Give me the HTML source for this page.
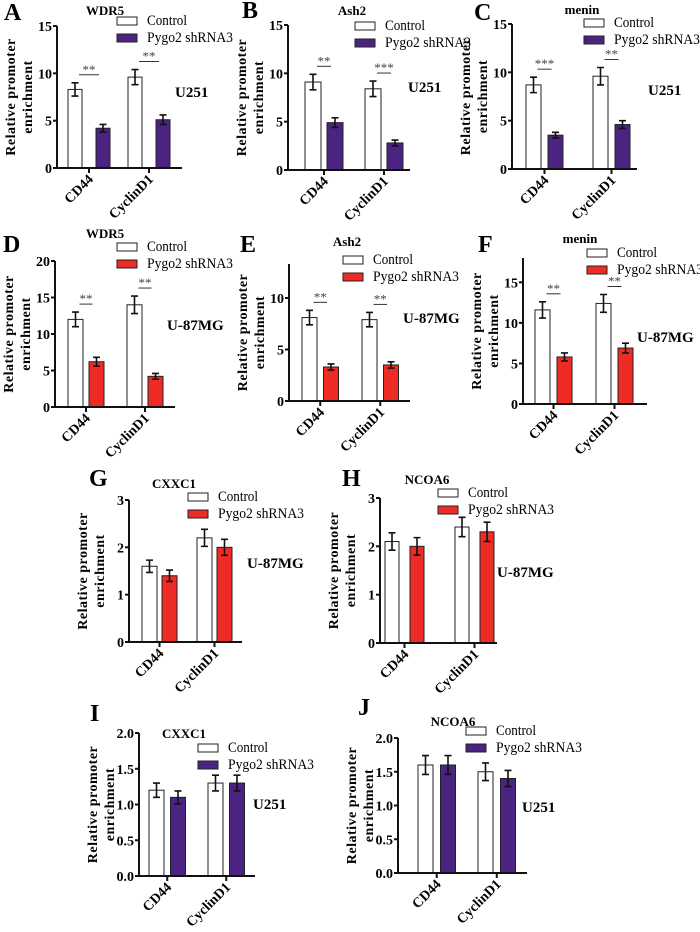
<!DOCTYPE html>
<html><head><meta charset="utf-8"><style>
html,body{margin:0;padding:0;background:#fff;}
svg{display:block;}
svg text{font-family:"Liberation Serif","Times New Roman",serif;}
</style></head><body>
<svg id="fig" width="700" height="932" viewBox="0 0 700 932" font-family="Liberation Serif, serif"></svg>
<script>
// ---- data ----
const categories = ["CD44", "CyclinD1"];
const seriesNames = ["Control", "Pygo2 shRNA3"];
const panelLetters = ["A","B","C","D","E","F","G","H","I","J"];
const panelTitles = ["WDR5","Ash2","menin","WDR5","Ash2","menin","CXXC1","NCOA6","CXXC1","NCOA6"];
const cellLines = ["U251","U251","U251","U-87MG","U-87MG","U-87MG","U-87MG","U-87MG","U251","U251"];
const controlValues = [[8.3,9.6],[9.1,8.4],[8.7,9.6],[12,14],[8.1,7.9],[11.6,12.4],[1.6,2.2],[2.1,2.4],[1.2,1.3],[1.6,1.5]];
const controlErrors = [[0.7,0.8],[0.8,0.8],[0.8,0.9],[1.0,1.2],[0.7,0.7],[1.0,1.1],[0.13,0.18],[0.18,0.2],[0.1,0.11],[0.14,0.13]];
const shValues = [[4.2,5.1],[4.9,2.8],[3.5,4.6],[6.2,4.2],[3.3,3.5],[5.8,6.9],[1.4,2.0],[2.0,2.3],[1.1,1.3],[1.6,1.4]];
const shErrors = [[0.4,0.5],[0.5,0.3],[0.3,0.4],[0.6,0.4],[0.3,0.3],[0.5,0.6],[0.12,0.17],[0.18,0.2],[0.09,0.11],[0.14,0.12]];
const significance = [["**","**"],["**","***"],["***","**"],["**","**"],["**","**"],["**","**"],["",""],["",""],["",""],["",""]];
const yMaxValues = [15,15,15,20,13.3,18,3,3,2,2];
const yTickLabels = [["0","5","10","15"],["0","5","10","15"],["0","5","10","15"],["0","5","10","15","20"],["0","5","10"],["0","5","10","15"],["0","1","2","3"],["0","1","2","3"],["0.0","0.5","1.0","1.5","2.0"],["0.0","0.5","1.0","1.5","2.0"]];
const shColors = ["#4a2480","#4a2480","#4a2480","#ee2b25","#ee2b25","#ee2b25","#ee2b25","#ee2b25","#4a2480","#4a2480"];

// ---- layout (pixel geometry, not data) ----
const legendTextWidths = [40, 86];
const layout = [
 {ax:57,y0:168,yt:26,xe:182,s:68,st:60,g:28,w:14,tx:105,ty:15,lx:4,ly:20,bx:117,by:17,cx:175,cy:97},
 {ax:288,y0:170,yt:25,xe:410,s:305,st:60,g:22,w:16,tx:352,ty:15,lx:242,ly:18,bx:355,by:22,cx:408,cy:92},
 {ax:512,y0:169,yt:24,xe:637,s:526,st:67,g:22,w:15,tx:582,ty:14,lx:474,ly:20,bx:584,by:19,cx:648,cy:95},
 {ax:55,y0:407,yt:261,xe:175,s:68,st:59,g:21,w:15,tx:105,ty:238,lx:3,ly:252,bx:117,by:243,cx:167,cy:330},
 {ax:289,y0:401,yt:264,xe:410,s:302,st:60,g:21.5,w:15,tx:347,ty:246,lx:240,ly:252,bx:343,by:256,cx:403,cy:323},
 {ax:523,y0:404,yt:258,xe:647,s:535,st:61,g:22,w:15,tx:580,ty:243,lx:478,ly:252,bx:587,by:249,cx:637,cy:342},
 {ax:129,y0:642,yt:500,xe:242,s:142,st:55,g:20,w:15,tx:174,ty:488,lx:89,ly:486,bx:188,by:493,cx:247,cy:568},
 {ax:380,y0:643,yt:498,xe:497,s:385,st:70,g:25,w:14,tx:427,ty:484,lx:342,ly:486,bx:438,by:489,cx:497,cy:577},
 {ax:139,y0:876,yt:733,xe:255,s:149,st:59,g:21.5,w:15,tx:184,ty:738,lx:90,ly:721,bx:198,by:744,cx:253,cy:809},
 {ax:398,y0:873,yt:738,xe:527,s:418,st:60,g:22.5,w:15,tx:453,ty:726,lx:358,ly:715,bx:466,by:727,cx:522,cy:812}
];

const NS = "http://www.w3.org/2000/svg";
const svg = document.getElementById("fig");
const FF = "Liberation Serif, Times New Roman, serif";
function mk(tag, attrs, parent, text){
  const e = document.createElementNS(NS, tag);
  for (const k in attrs) e.setAttribute(k, attrs[k]);
  if (tag === "text") e.setAttribute("font-family", FF);
  if (text !== undefined) e.textContent = text;
  (parent||svg).appendChild(e);
  return e;
}

panelLetters.forEach((L, p) => {
  const g0 = layout[p];
  const grp = mk("g", {});
  
  
  const max = yMaxValues[p];
  const yS = v => g0.y0 - v / max * (g0.y0 - g0.yt);
  const ticks = yTickLabels[p];
  const axisTop = Math.min(g0.yt, yS(parseFloat(ticks[ticks.length-1])));
  const xS = (i, s) => g0.s + i * g0.st + s * g0.g;

  const letter = mk("text", {x:g0.lx, y:g0.ly, "font-size":24, "font-weight":"bold"}, grp, L);
  
  
  const title = mk("text", {x:g0.tx, y:g0.ty, "font-size":13, "font-weight":"bold", "text-anchor":"middle"}, grp, panelTitles[p]);
  
  

  const midY = (axisTop + g0.y0) / 2;
  const yl = mk("text", {transform:`translate(${g0.ax-42},${midY}) rotate(-90)`, "font-size":14, "font-weight":"bold", "text-anchor":"middle", "letter-spacing":"0.5"}, grp);
  
  
  mk("tspan", {x:0, dy:0}, yl, "Relative promoter");
  mk("tspan", {x:0, dy:17}, yl, "enrichment");

  categories.forEach((c, i) => {
    const vals = [controlValues[p][i], shValues[p][i]];
    const errs = [controlErrors[p][i], shErrors[p][i]];
    vals.forEach((v, s) => {
      const x = xS(i, s);
      const r = mk("rect", {x:x, y:yS(v), width:g0.w, height:g0.y0 - yS(v), fill: s ? shColors[p] : "#fff", stroke:"#222", "stroke-width":1}, grp);
      
      
      const cx = x + g0.w / 2;
      const eb = mk("path", {d:`M${cx},${yS(v+errs[s])}V${yS(v-errs[s])}M${cx-3.5},${yS(v+errs[s])}H${cx+3.5}M${cx-3.5},${yS(v-errs[s])}H${cx+3.5}`, stroke:"#111", "stroke-width":1.6, fill:"none"}, grp);
      
      
    });
    const sig = significance[p][i];
    if (sig) {
      const top = Math.min(yS(vals[0]+errs[0]), yS(vals[1]+errs[1]));
      const ly = top - 8;
      const x1 = xS(i,0) + g0.w/2 + 4, x2 = xS(i,1) + g0.w/2 - 4;
      const sl = mk("line", {x1:x1, x2:x2, y1:ly, y2:ly, stroke:"#333", "stroke-width":1}, grp);
      
      
      const st = mk("text", {x:(x1+x2)/2, y:ly-1, "font-size":13, fill:"#444", "text-anchor":"middle"}, grp, sig);
      
      
    }
    const tx = xS(i,0) + (g0.g + g0.w) / 2;
    mk("line", {x1:tx, x2:tx, y1:g0.y0, y2:g0.y0+5, stroke:"#111", "stroke-width":2}, grp);
    const xl = mk("text", {transform:`translate(${tx+5},${g0.y0+12}) rotate(-45)`, "font-size":14, "font-weight":"bold", "text-anchor":"end"}, grp, c);
    
    
  });

  const ya = mk("line", {x1:g0.ax, x2:g0.ax, y1:axisTop, y2:g0.y0, stroke:"#111", "stroke-width":2}, grp);
  
  
  const xa = mk("line", {x1:g0.ax-1, x2:g0.xe, y1:g0.y0, y2:g0.y0, stroke:"#111", "stroke-width":2}, grp);
  
  
  ticks.forEach(t => {
    const y = yS(parseFloat(t));
    mk("line", {x1:g0.ax-4, x2:g0.ax, y1:y, y2:y, stroke:"#111", "stroke-width":2}, grp);
    const tl = mk("text", {x:g0.ax-5, y:y+5, "font-size":14, "font-weight":"bold", "text-anchor":"end"}, grp, t);
    
    
  });

  seriesNames.forEach((n, s) => {
    const by = g0.by + s * 17;
    const lb = mk("rect", {x:g0.bx, y:by, width:20, height:8, fill: s ? shColors[p] : "#fff", stroke:"#222", "stroke-width":1}, grp);
    
    
    const lt = mk("text", {x:g0.bx+30, y:by+8, "font-size":15, textLength:legendTextWidths[s], lengthAdjust:"spacingAndGlyphs"}, grp, n);
    
    
  });
  const cl = mk("text", {x:g0.cx, y:g0.cy, "font-size":15, "font-weight":"bold"}, grp, cellLines[p]);
  
  
});
</script>
</body></html>
